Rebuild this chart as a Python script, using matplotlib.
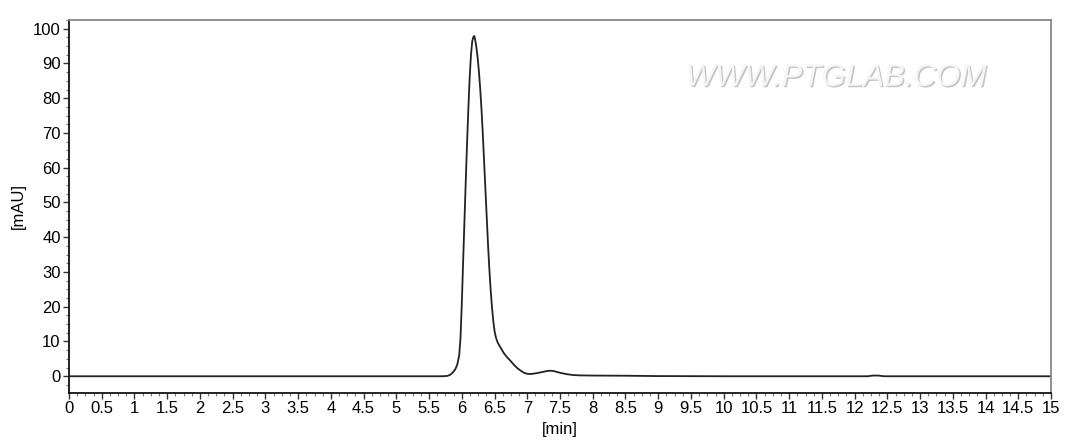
import matplotlib
matplotlib.use("Agg")
import matplotlib.pyplot as plt
from matplotlib.ticker import MultipleLocator
import matplotlib.patheffects as pe

# chromatogram (time in min, signal in mAU)
times = [0.0, 5.0, 5.70, 5.78, 5.82, 5.86, 5.90, 5.93, 5.96, 5.98, 6.00, 6.02, 6.04,
         6.06, 6.08, 6.10, 6.12, 6.14, 6.16, 6.18, 6.19, 6.20, 6.22, 6.24, 6.26,
         6.28, 6.30, 6.32, 6.34, 6.36, 6.38, 6.40, 6.42, 6.44, 6.46, 6.48, 6.50,
         6.52, 6.55, 6.59, 6.64, 6.69, 6.74, 6.80, 6.85, 6.90, 6.95, 7.00, 7.05,
         7.10, 7.20, 7.30, 7.35, 7.40, 7.50, 7.60, 7.70, 7.80, 8.00, 8.50, 9.00,
         10.0, 12.20, 12.28, 12.36, 12.45, 15.0]
signal = [0.0, 0.0, 0.0, 0.1, 0.4, 1.0, 2.0, 3.3, 6.0, 11.0, 21.0, 33.0, 44.5,
          56.0, 67.0, 77.0, 86.0, 92.5, 96.5, 97.8, 97.9, 97.2, 95.0, 92.0, 88.0,
          83.0, 77.0, 70.0, 62.0, 54.0, 46.0, 38.0, 31.0, 25.0, 20.0, 16.0, 13.0,
          11.2, 9.6, 8.3, 6.7, 5.5, 4.5, 3.2, 2.3, 1.6, 1.0, 0.7, 0.65,
          0.75, 1.1, 1.5, 1.6, 1.5, 1.0, 0.6, 0.35, 0.25, 0.2, 0.15, 0.05,
          0.0, 0.0, 0.2, 0.2, 0.0, 0.0]

x_ticks = [i * 0.5 for i in range(31)]
x_labels = ["%g" % v for v in x_ticks]
y_ticks = list(range(0, 101, 10))

plt.rcParams["font.family"] = ["Liberation Sans", "DejaVu Sans"]

fig = plt.figure(figsize=(10.78, 4.45), dpi=100)
ax = fig.add_axes([0.064, 0.117, 0.911, 0.838])

ax.plot(times, signal, color="#222222", lw=1.3, solid_joinstyle="round")

ax.set_xlim(0, 15)
ax.set_ylim(-4.8, 102.5)
ax.set_xticks(x_ticks)
ax.set_xticklabels(x_labels)
ax.set_yticks(y_ticks)
ax.xaxis.set_minor_locator(MultipleLocator(0.125))
ax.yaxis.set_minor_locator(MultipleLocator(2.5))
ax.tick_params(axis="both", which="major", labelsize=12, length=4, width=1, color="#333333", pad=2)
ax.tick_params(axis="both", which="minor", length=2, width=0.8, color="#777777")

for side in ("left", "bottom"):
    ax.spines[side].set_color("#111111")
    ax.spines[side].set_linewidth(1.3)
for side in ("top", "right"):
    ax.spines[side].set_color("#888888")
    ax.spines[side].set_linewidth(1.3)

ax.set_xlabel("[min]", fontsize=12, labelpad=4)
ax.set_ylabel("[mAU]", fontsize=12, labelpad=5)

# embossed watermark
ax.text(0.781, 0.845, "WWW.PTGLAB.COM", transform=ax.transAxes, ha="center", va="center",
        fontsize=22.5, color="#f6f6f6", style="italic",
        path_effects=[pe.withSimplePatchShadow(offset=(1, -1), shadow_rgbFace="#c4c4c4", alpha=1)])

fig.savefig("out.png", dpi=100)
